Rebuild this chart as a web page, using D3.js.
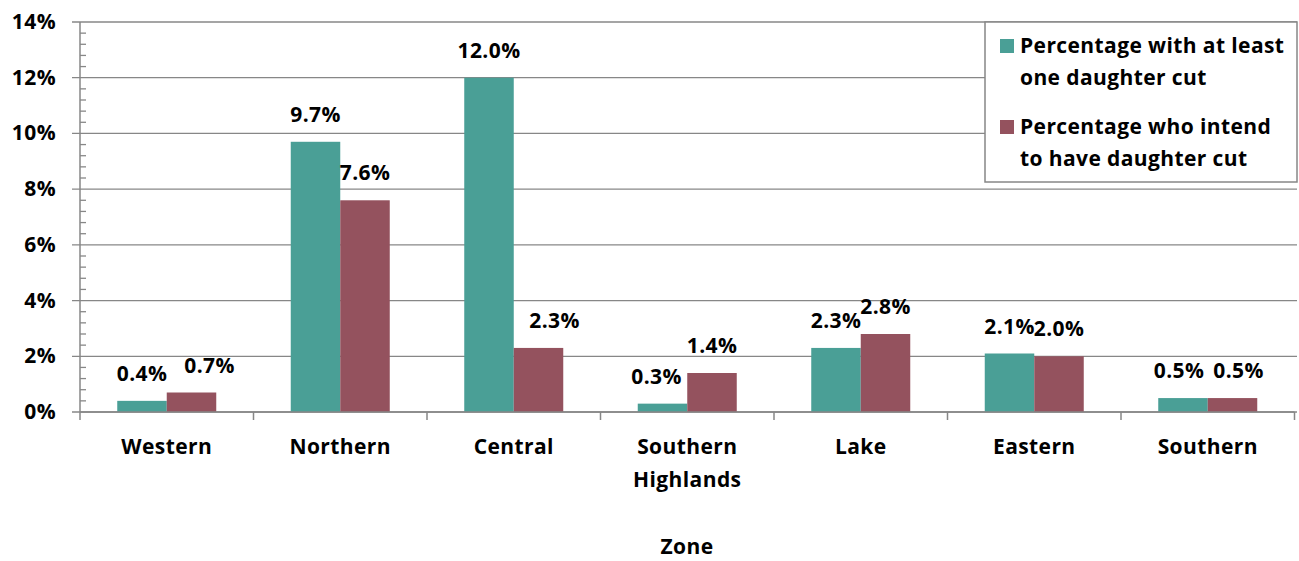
<!DOCTYPE html>
<html><head><meta charset="utf-8">
<script src="https://cdn.jsdelivr.net/npm/d3@7"></script>
<style>body{margin:0;background:#fff}svg{display:block}text{font-family:"Open Sans",Lato,sans-serif;font-weight:bold;fill:#000;letter-spacing:0.4px}</style>
</head><body>
<svg id="c" width="1299" height="561"></svg>
<script>
const categories = [["Western"],["Northern"],["Central"],["Southern","Highlands"],["Lake"],["Eastern"],["Southern"]];
const seriesNames = [["Percentage with at least","one daughter cut"],["Percentage who intend","to have daughter cut"]];
const atLeastOne = [0.4, 9.7, 12.0, 0.3, 2.3, 2.1, 0.5];
const intend = [0.7, 7.6, 2.3, 1.4, 2.8, 2.0, 0.5];
const yTicks = [0, 2, 4, 6, 8, 10, 12, 14];
const axisTitle = "Zone";

// label nudges (layout, px)
const nudge1 = [0, 0, 0, -6, 0, 0, -4];
const nudge2 = [18, 0, 16, 0, 0, 0, 6];

const colors = ["#4A9F96", "#94525E"];
const svg = d3.select("#c");
const L = 80, R = 1294.5, T = 22, B = 412;
const x = d3.scaleBand().domain(d3.range(categories.length)).range([L, R]).paddingInner(0).paddingOuter(0);
const y = d3.scaleLinear().domain([0, 14]).range([B, T]);
const bw = 49.5;
const gray = "#878787";
const FS = 21;

svg.append("g").selectAll("line").data(yTicks).join("line")
  .attr("x1", L - 8).attr("x2", 1297).attr("y1", d => y(d)).attr("y2", d => y(d))
  .attr("stroke", gray).attr("stroke-width", 1.3);
const minor = d3.range(0, 14.01, 0.4).filter(v => Math.abs(v/2 - Math.round(v/2)) > 0.01);
svg.append("g").selectAll("line").data(minor).join("line")
  .attr("x1", L).attr("x2", L + 6).attr("y1", d => y(d)).attr("y2", d => y(d))
  .attr("stroke", gray).attr("stroke-width", 1.3);
svg.append("line").attr("x1", L).attr("x2", L).attr("y1", T).attr("y2", B).attr("stroke", gray).attr("stroke-width", 1.5);
svg.append("g").selectAll("text").data(yTicks).join("text")
  .attr("x", 56).attr("y", d => y(d) + 7).attr("text-anchor", "end").attr("font-size", FS).text(d => d + "%");

const series = [atLeastOne, intend];
const nudges = [nudge1, nudge2];
series.forEach((vals, s) => {
  const g = svg.append("g");
  g.selectAll("rect").data(vals).join("rect")
    .attr("x", (d, i) => x(i) + x.bandwidth()/2 - bw + s*bw)
    .attr("width", bw)
    .attr("y", d => y(d)).attr("height", d => B - y(d))
    .attr("fill", colors[s]);
  g.selectAll("text").data(vals).join("text")
    .attr("x", (d, i) => x(i) + x.bandwidth()/2 - bw/2 + s*bw + nudges[s][i])
    .attr("y", d => y(d) - 20).attr("text-anchor", "middle").attr("font-size", FS)
    .text(d => d.toFixed(1) + "%");
});

svg.append("line").attr("x1", L).attr("x2", R).attr("y1", B).attr("y2", B).attr("stroke", gray).attr("stroke-width", 1.5);
svg.append("g").selectAll("line").data(d3.range(categories.length + 1)).join("line")
  .attr("x1", i => L + i*x.step()).attr("x2", i => L + i*x.step())
  .attr("y1", B).attr("y2", B + 8).attr("stroke", gray).attr("stroke-width", 1.5);
const xl = svg.append("g").selectAll("text").data(categories).join("text")
  .attr("x", (d, i) => x(i) + x.bandwidth()/2).attr("y", 454).attr("text-anchor", "middle").attr("font-size", FS);
xl.selectAll("tspan").data(d => d).join("tspan")
  .attr("x", function(){ return this.parentNode.getAttribute("x"); })
  .attr("dy", (d, j) => j === 0 ? 0 : 33).text(d => d);
svg.append("text").attr("x", 687).attr("y", 554).attr("text-anchor", "middle").attr("font-size", FS).text(axisTitle);

const lg = svg.append("g");
lg.append("rect").attr("x", 985).attr("y", 22).attr("width", 312).attr("height", 160)
  .attr("fill", "#fff").attr("stroke", gray).attr("stroke-width", 1.5);
seriesNames.forEach((lines, s) => {
  const y0 = 53 + s*81;
  lg.append("rect").attr("x", 1000).attr("y", y0 - 14).attr("width", 14).attr("height", 14).attr("fill", colors[s]);
  lines.forEach((t, j) => lg.append("text").attr("x", 1020).attr("y", y0 + j*32).attr("font-size", FS).text(t));
});
</script>
</body></html>
